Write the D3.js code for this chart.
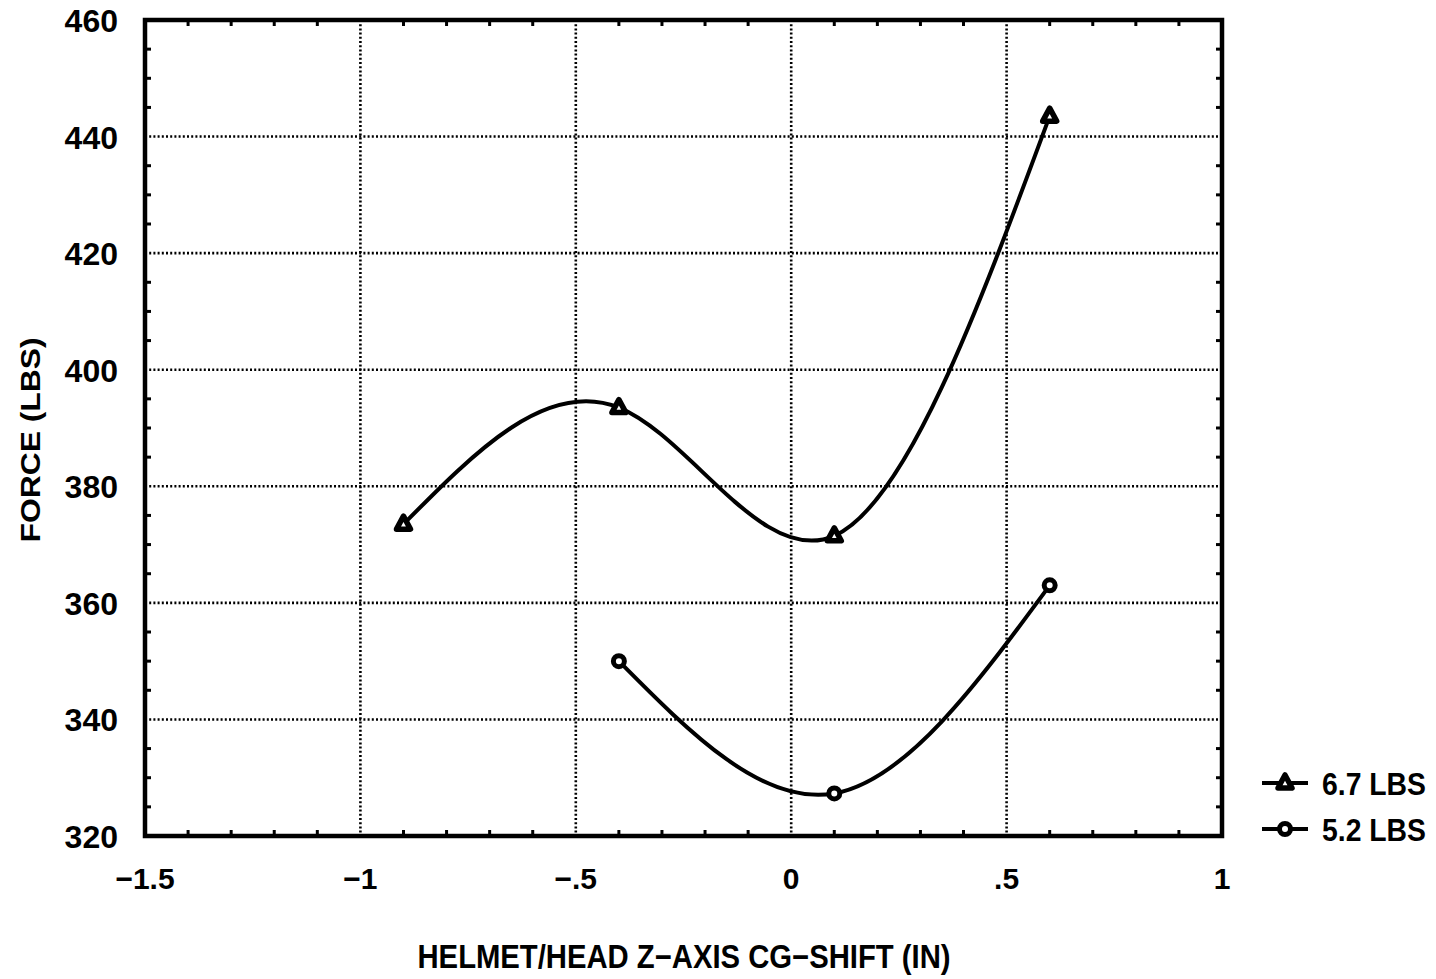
<!DOCTYPE html>
<html><head><meta charset="utf-8">
<script src="https://cdn.jsdelivr.net/npm/d3@7"></script>
<style>body{margin:0;background:#fff}svg{display:block}</style>
</head><body>
<svg id="c" width="1436" height="979"></svg>
<script>
const seriesNames = ["6.7 LBS", "5.2 LBS"];
const xTri = [-0.9, -0.4, 0.1, 0.6];
const yTri = [373.5, 393.5, 371.5, 443.5];
const xCir = [-0.4, 0.1, 0.6];
const yCir = [350, 327.3, 363];
const xTicks = [-1.5, -1, -0.5, 0, 0.5, 1];
const xTickLabels = ["\u22121.5", "\u22121", "\u2212.5", "0", ".5", "1"];
const yTicks = [320, 340, 360, 380, 400, 420, 440, 460];
const xTitle = "HELMET/HEAD Z\u2212AXIS CG\u2212SHIFT (IN)";
const yTitle = "FORCE (LBS)";

const svg = d3.select("#c");
const L = 145, R = 1222, T = 20, B = 836;
const x = d3.scaleLinear().domain([-1.5, 1]).range([L, R]);
const y = d3.scaleLinear().domain([320, 460]).range([B, T]);
const font = "'Liberation Sans', Arial, sans-serif";
const narrow = "'Liberation Sans Narrow', 'Liberation Sans', Arial, sans-serif";

// grid
const g = svg.append("g");
g.selectAll(".gx").data(xTicks.slice(1, -1)).enter().append("line")
  .attr("x1", d => x(d)).attr("x2", d => x(d)).attr("y1", T).attr("y2", B)
  .attr("stroke", "#000").attr("stroke-width", 2.6).attr("stroke-dasharray", "2,2.2");
g.selectAll(".gy").data(yTicks.slice(1, -1)).enter().append("line")
  .attr("y1", d => y(d)).attr("y2", d => y(d)).attr("x1", L).attr("x2", R)
  .attr("stroke", "#000").attr("stroke-width", 2.6).attr("stroke-dasharray", "2,2.2");

// minor ticks
const xMinor = d3.range(-15, 11).map(i => i / 10).filter(v => Math.abs(v * 2 - Math.round(v * 2)) > 1e-6);
const yMinor = d3.range(320, 461, 5).filter(v => v % 20 !== 0);
const tk = 6;
g.selectAll(".mxb").data(xMinor).enter().append("line")
  .attr("x1", d => x(d)).attr("x2", d => x(d)).attr("y1", B).attr("y2", B - tk)
  .attr("stroke", "#000").attr("stroke-width", 3);
g.selectAll(".mxt").data(xMinor).enter().append("line")
  .attr("x1", d => x(d)).attr("x2", d => x(d)).attr("y1", T).attr("y2", T + tk)
  .attr("stroke", "#000").attr("stroke-width", 3);
g.selectAll(".myl").data(yMinor).enter().append("line")
  .attr("y1", d => y(d)).attr("y2", d => y(d)).attr("x1", L).attr("x2", L + tk)
  .attr("stroke", "#000").attr("stroke-width", 3);
g.selectAll(".myr").data(yMinor).enter().append("line")
  .attr("y1", d => y(d)).attr("y2", d => y(d)).attr("x1", R).attr("x2", R - tk)
  .attr("stroke", "#000").attr("stroke-width", 3);

// frame
svg.append("rect").attr("x", L).attr("y", T).attr("width", R - L).attr("height", B - T)
  .attr("fill", "none").attr("stroke", "#000").attr("stroke-width", 4.5);

// tick labels
svg.selectAll(".xl").data(xTicks).enter().append("text")
  .attr("x", (d, i) => x(d)).attr("y", 889)
  .attr("text-anchor", "middle").attr("font-family", font).attr("font-weight", "bold")
  .attr("font-size", 30).text((d, i) => xTickLabels[i]);
svg.selectAll(".yl").data(yTicks).enter().append("text")
  .attr("x", 118).attr("y", d => y(d) + 12)
  .attr("text-anchor", "end").attr("font-family", font).attr("font-weight", "bold")
  .attr("font-size", 32).text(d => d);

// titles
svg.append("text").attr("x", 684).attr("y", 968).attr("text-anchor", "middle")
  .attr("font-family", narrow).attr("font-weight", "bold").attr("font-size", 33)
  .attr("textLength", 533).attr("lengthAdjust", "spacingAndGlyphs").text(xTitle);
svg.append("text").attr("transform", "translate(40,440) rotate(-90)").attr("text-anchor", "middle")
  .attr("font-family", narrow).attr("font-weight", "bold").attr("font-size", 27)
  .attr("textLength", 205).attr("lengthAdjust", "spacingAndGlyphs").text(yTitle);

// lines
const line = d3.line().x(d => x(d[0])).y(d => y(d[1])).curve(d3.curveNatural);
const triData = xTri.map((v, i) => [v, yTri[i]]);
const cirData = xCir.map((v, i) => [v, yCir[i]]);
svg.append("path").datum(triData).attr("d", line).attr("fill", "none").attr("stroke", "#000").attr("stroke-width", 4);
svg.append("path").datum(cirData).attr("d", line).attr("fill", "none").attr("stroke", "#000").attr("stroke-width", 4);

const triPath = "M0,-8 L7,5 L-7,5 Z";
function tri(sel) {
  sel.append("path").attr("d", triPath).attr("fill", "#fff").attr("stroke", "#000")
    .attr("stroke-width", 5.5).attr("stroke-linejoin", "round");
}
function cir(sel) {
  sel.append("circle").attr("r", 5.5).attr("fill", "#fff").attr("stroke", "#000").attr("stroke-width", 5);
}
svg.selectAll(".pt").data(triData).enter().append("g")
  .attr("transform", d => `translate(${x(d[0])},${y(d[1])})`).call(tri);
svg.selectAll(".pc").data(cirData).enter().append("g")
  .attr("transform", d => `translate(${x(d[0])},${y(d[1])})`).call(cir);

// legend
const leg = svg.append("g");
const legY = [783, 829];
seriesNames.forEach((name, i) => {
  const gy = leg.append("g").attr("transform", `translate(0,${legY[i]})`);
  gy.append("line").attr("x1", 1262).attr("x2", 1308).attr("y1", 0).attr("y2", 0)
    .attr("stroke", "#000").attr("stroke-width", 4);
  const m = gy.append("g").attr("transform", "translate(1285,0)");
  if (i === 0) tri(m); else cir(m);
  gy.append("text").attr("x", 1322).attr("y", 12).attr("font-family", narrow)
    .attr("font-weight", "bold").attr("font-size", 31)
    .attr("textLength", 104).attr("lengthAdjust", "spacingAndGlyphs").text(name);
});
</script>
</body></html>
